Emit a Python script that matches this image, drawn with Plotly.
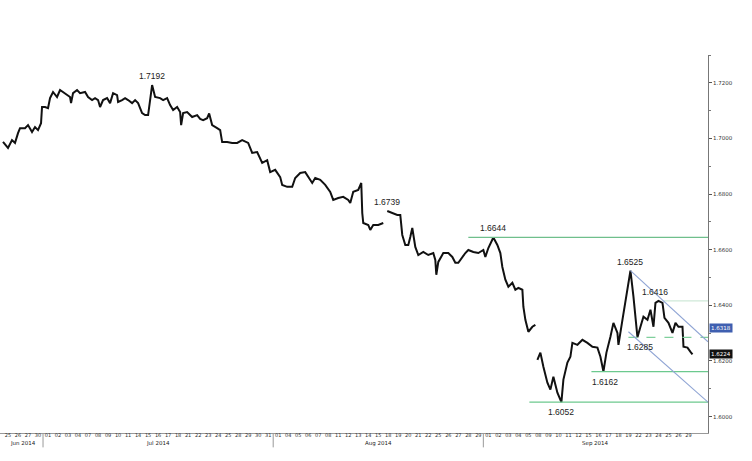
import plotly.graph_objects as go

# ---------------- data ----------------
# x = trading-day index (0 = 25 Jun 2014), y = GBP/USD price; None = gap
seg_x = [
    0.0, 0.5, 0.9, 1.2, 1.5, 1.7, 2.2, 2.5, 2.9, 3.2, 3.5, 3.8, 3.9, 4.2, 4.5, 4.7, 5.0, 5.4, 5.7, 6.2,
    6.7, 6.8, 7.0, 7.4, 7.7, 8.2, 8.5, 8.9, 9.2, 9.5, 9.7, 10.0, 10.4, 10.7, 11.0, 11.4, 11.5, 11.9, 12.2, 12.5,
    12.9, 13.2, 13.5, 13.9, 14.2, 14.5, 14.7, 14.9, 15.2, 15.7, 16.0, 16.4, 16.7, 17.0, 17.4, 17.7, 17.8, 18.0, 18.4, 18.9,
    19.4, 19.7, 20.0, 20.4, 20.6, 20.9, 21.4, 21.7, 21.9, 22.4, 22.9, 23.4, 23.9, 24.5, 24.9, 25.4, 25.9, 26.4, 26.7, 27.2,
    27.7, 27.9, 28.4, 28.9, 29.2, 29.7, 30.2, 30.5, 30.9, 31.2, 31.7, 32.2, 32.7, 33.0, 33.5, 34.0, 34.5, 34.7, 35.0, 35.5,
    35.8, 35.9, 36.0, 36.5, 36.7, 37.0, 37.5, 38.0, None,
    38.4, 38.9, 39.4, 39.7, 39.9, 40.2, 40.5, 40.7, 40.9, 41.2, 41.5, 42.0, 42.5, 43.0, 43.2, 43.3, 43.5, 44.0, 44.5, 44.9,
    45.2, 45.5, 45.9, 46.2, 46.5, 47.0, 47.5, 48.0, 48.2, 48.5, 49.0, 49.4, 49.7, 49.9, 50.2, 50.5, 50.9, 51.2, 51.5, 51.9,
    52.0, 52.2, 52.5, 52.9, 53.2, None,
    53.4, 53.7, 54.0, 54.4, 54.7, 55.0, 55.4, 55.8, 56.0, 56.4, 56.7, 56.9, 57.4, 57.9, 58.4, 58.9, 59.4, 59.7, 60.0, 60.3,
    60.7, 61.0, 61.4, 61.5, 61.9, 62.2, 62.5, 62.7, 63.0, 63.2, 63.4, 63.7, 64.0, 64.4, 64.7, 65.0, 65.2, 65.5, 65.9, 66.1,
    66.5, 66.9, 67.2, 67.5, 67.9, 68.0, 68.4, 68.7, 68.9,
]
seg_y = [
    1.6988, 1.6966, 1.6994, 1.6984, 1.7019, 1.7037, 1.7037, 1.7048, 1.7023, 1.7041, 1.7030, 1.7055, 1.7113, 1.7113, 1.7109, 1.7145, 1.7167, 1.7149, 1.7174, 1.7163,
    1.7149, 1.7127, 1.7163, 1.7174, 1.7163, 1.7167, 1.7149, 1.7138, 1.7145, 1.7138, 1.7113, 1.7138, 1.7145, 1.7127, 1.7163, 1.7156, 1.7131, 1.7138, 1.7145, 1.7138,
    1.7127, 1.7138, 1.7127, 1.7091, 1.7084, 1.7084, 1.7145, 1.7192, 1.7149, 1.7145, 1.7138, 1.7145, 1.7120, 1.7102, 1.7113, 1.7095, 1.7048, 1.7091, 1.7095, 1.7077,
    1.7084, 1.7070, 1.7066, 1.7073, 1.7090, 1.7048, 1.7037, 1.7030, 1.6987, 1.6987, 1.6984, 1.6984, 1.6994, 1.6984, 1.6948, 1.6951, 1.6912, 1.6922, 1.6879, 1.6887,
    1.6861, 1.6833, 1.6826, 1.6826, 1.6858, 1.6876, 1.6879, 1.6861, 1.6840, 1.6858, 1.6851, 1.6833, 1.6808, 1.6779, 1.6786, 1.6790, 1.6779, 1.6768, 1.6808, 1.6815,
    1.6840, 1.6732, 1.6696, 1.6689, 1.6671, 1.6689, 1.6689, 1.6696, None,
    1.6739, 1.6732, 1.6725, 1.6725, 1.6653, 1.6617, 1.6617, 1.6646, 1.6678, 1.6610, 1.6581, 1.6592, 1.6581, 1.6588, 1.6563, 1.6510, 1.6556, 1.6588, 1.6588, 1.6574,
    1.6553, 1.6553, 1.6574, 1.6588, 1.6599, 1.6592, 1.6588, 1.6599, 1.6574, 1.6606, 1.6644, 1.6617, 1.6588, 1.6538, 1.6492, 1.6467, 1.6481, 1.6456, 1.6463, 1.6456,
    1.6395, 1.6348, 1.6305, 1.6323, 1.6330, None,
    1.6204, 1.6230, 1.6179, 1.6122, 1.6097, 1.6143, 1.6086, 1.6052, 1.6133, 1.6194, 1.6215, 1.6265, 1.6258, 1.6276, 1.6265, 1.6251, 1.6248, 1.6215, 1.6162, 1.6230,
    1.6287, 1.6337, 1.6301, 1.6258, 1.6348, 1.6409, 1.6481, 1.6525, 1.6431, 1.6348, 1.6285, 1.6323, 1.6359, 1.6348, 1.6384, 1.6323, 1.6409, 1.6416, 1.6409, 1.6355,
    1.6337, 1.6301, 1.6337, 1.6323, 1.6323, 1.6251, 1.6248, 1.6233, 1.6224,
]

day_labels = ["25", "26", "27", "30",
              "01", "02", "03", "04", "07", "08", "09", "10", "11", "14", "15", "16", "17", "18", "21", "22", "23", "24", "25", "28", "29", "30", "31",
              "01", "04", "05", "06", "07", "08", "11", "12", "13", "14", "15", "18", "19", "20", "21", "22", "25", "26", "27", "28", "29",
              "01", "02", "03", "04", "05", "08", "09", "10", "11", "12", "15", "16", "17", "18", "19", "22", "23", "24", "25", "26", "29"]
month_names = ["Jun 2014", "Jul 2014", "Aug 2014", "Sep 2014"]
month_start = [0, 4, 27, 48]          # index of first trading day of each month

y_ticks = [1.60, 1.62, 1.64, 1.66, 1.68, 1.70, 1.72]
y_tick_text = ["1.6000", "1.6200", "1.6400", "1.6600", "1.6800", "1.7000", "1.7200"]

# annotated levels: (x, price, label)
level_x = [14.9, 38.4, 49.0, 62.7, 65.2, 63.7, 60.2, 55.8]
level_y = [1.7192, 1.6739, 1.6644, 1.6525, 1.6416, 1.6285, 1.6162, 1.6052]
level_txt = ["1.7192", "1.6739", "1.6644", "1.6525", "1.6416", "1.6285", "1.6162", "1.6052"]
level_below = [False, False, False, False, False, True, True, True]

# horizontal lines: start x, price
hline_x0 = [46.5, 66.0, 62.5, 58.8, 52.6]
hline_y = [1.6644, 1.6416, 1.6285, 1.6162, 1.6052]
hline_col = ["#6fbf8c", "#cfe9d8", "#7fcf9c", "#6cc98e", "#6cc98e"]
hline_dash = ["solid", "solid", "dash", "solid", "solid"]

# channel lines: (x0, y0, x1, y1)
chan_x0 = [62.7, 62.5]
chan_y0 = [1.6525, 1.6305]
chan_x1 = [70.45, 70.45]
chan_y1 = [1.6269, 1.6052]

# right-axis markers
marker_val = [1.6318, 1.6224]
marker_col = ["#3f5fb0", "#111111"]

X_MAX = 70.45
# --------------------------------------

fig = go.Figure()
fig.add_trace(go.Scatter(x=seg_x, y=seg_y, mode="lines",
                         line=dict(color="#111111", width=2), connectgaps=False,
                         hoverinfo="skip", showlegend=False))

shapes = []
for x0, y, c, d in zip(hline_x0, hline_y, hline_col, hline_dash):
    shapes.append(dict(type="line", xref="x", yref="y", x0=x0, x1=X_MAX, y0=y, y1=y,
                       line=dict(color=c, width=1.2, dash=d)))
for x0, y0, x1, y1 in zip(chan_x0, chan_y0, chan_x1, chan_y1):
    shapes.append(dict(type="line", xref="x", yref="y", x0=x0, x1=x1, y0=y0, y1=y1,
                       line=dict(color="#8fa4d4", width=1.1)))
# month separators below the x-axis
for ms in month_start[1:]:
    shapes.append(dict(type="line", xref="x", yref="paper", x0=ms, x1=ms, y0=0, y1=-0.038,
                       line=dict(color="#999999", width=1)))

annotations = []
for x, y, t, below in zip(level_x, level_y, level_txt, level_below):
    annotations.append(dict(x=x, y=y, xref="x", yref="y", text=t, showarrow=False,
                            yanchor="top" if below else "bottom",
                            yshift=-3 if below else 2,
                            font=dict(family="Liberation Sans", size=8.5, color="#222222")))
ends = month_start[1:] + [X_MAX]
for name, s, e in zip(month_names, month_start, ends):
    annotations.append(dict(x=(max(s, -0.3) + e) / 2, y=-0.029, xref="x", yref="paper",
                            text=name, showarrow=False, yanchor="middle",
                            font=dict(family="DejaVu Sans", size=5.5, color="#222222")))
for v, c in zip(marker_val, marker_col):
    annotations.append(dict(x=1, y=v, xref="paper", yref="y", text=f"{v:.4f}",
                            showarrow=False, xanchor="left", xshift=1,
                            bgcolor=c, borderpad=1,
                            font=dict(family="DejaVu Sans", size=5.5, color="white")))

fig.update_layout(
    width=752, height=461,
    margin=dict(l=0, r=44, t=55, b=28),
    paper_bgcolor="white", plot_bgcolor="white",
    shapes=shapes, annotations=annotations,
    xaxis=dict(range=[-0.3, X_MAX], showgrid=False, zeroline=False,
               showline=True, linecolor="#999999", linewidth=1,
               tickmode="array", tickvals=[i + 0.5 for i in range(len(day_labels))],
               ticktext=day_labels, tickangle=0, ticks="", ticklen=0,
               ticklabelstandoff=-3,
               tickfont=dict(family="DejaVu Sans", size=5, color="#333333")),
    yaxis=dict(range=[1.5941, 1.7300], side="right", showgrid=False, zeroline=False,
               showline=True, linecolor="#777777", linewidth=1,
               tickmode="array", tickvals=y_ticks, ticktext=y_tick_text,
               ticks="outside", ticklen=3, tickcolor="#555555",
               minor=dict(tickmode="linear", tick0=1.59, dtick=0.01, ticks="outside",
                          ticklen=2, tickcolor="#777777"),
               tickfont=dict(family="DejaVu Sans", size=5.5, color="#333333")),
)

fig.write_html("out.html", config={"displayModeBar": False},
               post_script="document.body.style.margin='0';")
